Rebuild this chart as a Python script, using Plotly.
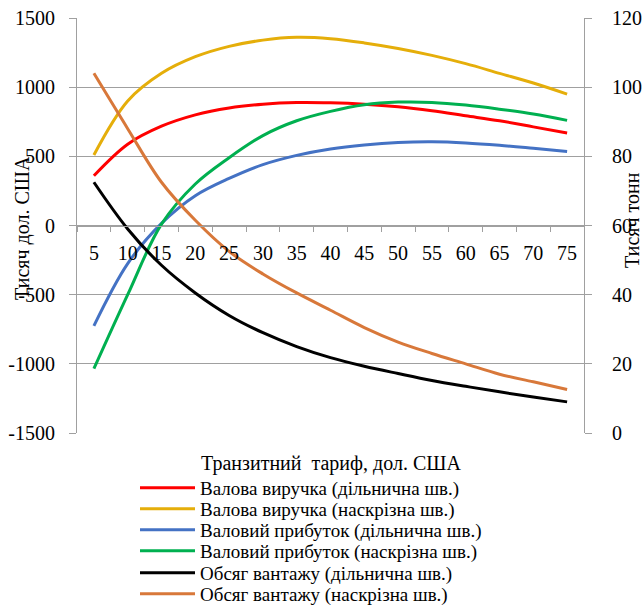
import plotly.graph_objects as go

tariffs = ["5", "10", "15", "20", "25", "30", "35", "40", "45", "50", "55", "60", "65", "70", "75"]
left_tick_vals = [-1500, -1000, -500, 0, 500, 1000, 1500]
left_tick_text = ["-1500", "-1000", "-500", "0", "500", "1000", "1500"]

revenue_sectional = [360, 588, 718, 800, 850, 877, 889, 887, 877, 858, 829, 793, 757, 713, 668]
revenue_through = [510, 900, 1100, 1220, 1295, 1340, 1360, 1350, 1320, 1280, 1230, 1170, 1100, 1030, 950]
profit_sectional = [-725, -275, 15, 215, 340, 440, 507, 553, 582, 600, 605, 597, 580, 558, 535]
profit_through = [-1035, -500, 10, 300, 490, 650, 757, 825, 873, 892, 890, 871, 841, 806, 760]
volume_sectional = [72.5, 59, 48.5, 40.5, 34, 29, 25, 21.8, 19.3, 17.2, 15.2, 13.5, 11.9, 10.4, 9.0]
volume_through = [104, 88, 72.5, 61.5, 52.5, 46, 40.5, 35.5, 30.5, 26.3, 23, 20, 17, 14.8, 12.6]

names = [
    "Валова виручка (дільнична шв.)",
    "Валова виручка (наскрізна шв.)",
    "Валовий прибуток (дільнична шв.)",
    "Валовий прибуток (наскрізна шв.)",
    "Обсяг вантажу (дільнична шв.)",
    "Обсяг вантажу (наскрізна шв.)",
]
colors = ["#FF0000", "#E5AE0A", "#4472C4", "#00B050", "#000000", "#D8783A"]
series = [revenue_sectional, revenue_through, profit_sectional, profit_through,
          volume_sectional, volume_through]
axes = ["y", "y", "y", "y", "y2", "y2"]

FONT = "Liberation Serif"

# plot area geometry (pixels)
W, H = 642, 610
L, R, T, B = 77, 584, 18, 433
pw, ph = R - L, B - T

def px(x):
    return (x - L) / pw

def py(y):
    return (B - y) / ph

fig = go.Figure()
legend_rows = [488, 509, 530, 551, 573, 594]
for i in range(6):
    fig.add_trace(go.Scatter(
        x=tariffs, y=series[i], name=names[i], mode="lines",
        line=dict(color=colors[i], width=3, shape="spline", smoothing=1),
        yaxis=axes[i], legend=f"legend{i+2}",
    ))

layout = dict(
    width=W, height=H,
    margin=dict(l=L, r=W - R, t=T, b=H - B, autoexpand=False),
    paper_bgcolor="white", plot_bgcolor="white",
    showlegend=True,
    font=dict(family=FONT, size=20, color="#000000"),
    xaxis=dict(
        type="category", range=[-0.5, 14.5],
        anchor="free", position=0.5,
        showline=True, linecolor="#a0a0a0", linewidth=1,
        ticks="outside", ticklen=5, tickcolor="#a0a0a0", tickson="boundaries",
        showgrid=False, zeroline=False,
        tickfont=dict(family=FONT, size=20),
        ticklabelstandoff=9,
    ),
    yaxis=dict(
        range=[-1500, 1500], tickmode="array",
        tickvals=left_tick_vals, ticktext=left_tick_text,
        showline=True, linecolor="#a0a0a0", linewidth=1,
        ticks="outside", ticklen=7, tickcolor="#a0a0a0",
        showgrid=True, gridcolor="#a0a0a0", gridwidth=1,
        zeroline=False,
        tickfont=dict(family=FONT, size=20),
        ticklabelstandoff=10,
    ),
    yaxis2=dict(
        range=[0, 120], dtick=20, overlaying="y", side="right",
        showline=True, linecolor="#a0a0a0", linewidth=1,
        ticks="outside", ticklen=7, tickcolor="#a0a0a0",
        showgrid=False, zeroline=False,
        tickfont=dict(family=FONT, size=20),
        ticklabelstandoff=16,
    ),
    annotations=[
        dict(text="Транзитний\u00a0 тариф, дол. США", xref="paper", yref="paper",
             x=0.5, y=py(463), xanchor="center", yanchor="middle", showarrow=False,
             font=dict(family=FONT, size=20)),
        dict(text="Тисяч дол. США", xref="paper", yref="paper",
             x=px(22), y=py(228), xanchor="center", yanchor="middle", showarrow=False,
             textangle=-90, font=dict(family=FONT, size=20)),
        dict(text="Тисяч тонн", xref="paper", yref="paper",
             x=px(632), y=py(220), xanchor="center", yanchor="middle", showarrow=False,
             textangle=-90, font=dict(family=FONT, size=20)),
    ],
)
for i in range(6):
    layout[f"legend{i+2}"] = dict(
        x=px(135), y=py(legend_rows[i]), xanchor="left", yanchor="middle",
        bgcolor="rgba(0,0,0,0)", borderwidth=0,
        font=dict(family=FONT, size=19), itemwidth=55,
    )
fig.update_layout(**layout)
fig.write_html("out.html")
